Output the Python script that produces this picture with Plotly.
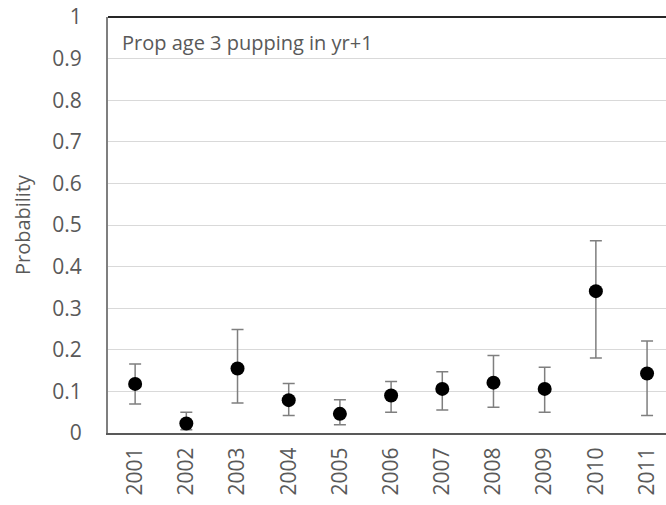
import plotly.graph_objects as go

years = ["2001", "2002", "2003", "2004", "2005", "2006", "2007", "2008", "2009", "2010", "2011"]
prob = [0.118, 0.023, 0.155, 0.079, 0.046, 0.090, 0.106, 0.121, 0.106, 0.341, 0.143]
upper = [0.166, 0.050, 0.249, 0.119, 0.080, 0.124, 0.147, 0.186, 0.158, 0.462, 0.221]
lower = [0.070, 0.008, 0.072, 0.042, 0.020, 0.050, 0.055, 0.062, 0.050, 0.180, 0.042]

err_plus = [u - p for u, p in zip(upper, prob)]
err_minus = [p - l for p, l in zip(prob, lower)]

font_family = "Open Sans, Noto Sans, sans-serif"
text_color = "#595959"
tick_size = 21

fig = go.Figure()
fig.add_trace(go.Scatter(
    x=years,
    y=prob,
    mode="markers",
    marker=dict(color="black", size=14),
    error_y=dict(
        type="data",
        symmetric=False,
        array=err_plus,
        arrayminus=err_minus,
        color="#7f7f7f",
        thickness=1.5,
        width=6,
    ),
    showlegend=False,
))

fig.update_layout(
    width=666,
    height=505,
    margin=dict(l=108, r=0, t=17, b=72),
    paper_bgcolor="white",
    plot_bgcolor="white",
    font=dict(family=font_family, color=text_color, size=20),
    xaxis=dict(
        type="category",
        range=[-0.53, 10.37],
        tickangle=-90,
        tickfont=dict(size=tick_size, color=text_color),
        showgrid=False,
        showline=True,
        linecolor="#595959",
        linewidth=2,
        ticks="",
        ticklen=0,
        ticklabelstandoff=4,
    ),
    yaxis=dict(
        range=[0, 1],
        tickvals=[0, 0.1, 0.2, 0.3, 0.4, 0.5, 0.6, 0.7, 0.8, 0.9, 1],
        ticktext=["0", "0.1", "0.2", "0.3", "0.4", "0.5", "0.6", "0.7", "0.8", "0.9", "1"],
        tickfont=dict(size=tick_size, color=text_color),
        showgrid=True,
        gridcolor="#d9d9d9",
        gridwidth=1,
        showline=True,
        linecolor="#7f7f7f",
        linewidth=2,
        zeroline=False,
        ticks="",
        ticklabelstandoff=20,
        title=dict(text="Probability", font=dict(size=20, color=text_color), standoff=16),
    ),
    shapes=[
        dict(type="line", xref="paper", yref="paper", x0=0, x1=1, y0=1, y1=1,
             line=dict(color="#262626", width=2)),
    ],
    annotations=[
        dict(text="Prop age 3 pupping in yr+1", xref="paper", yref="paper",
             x=0.022, y=0.975, xanchor="left", yanchor="top", showarrow=False,
             font=dict(size=20, color=text_color)),
    ],
)

fig.write_html("out.html")
